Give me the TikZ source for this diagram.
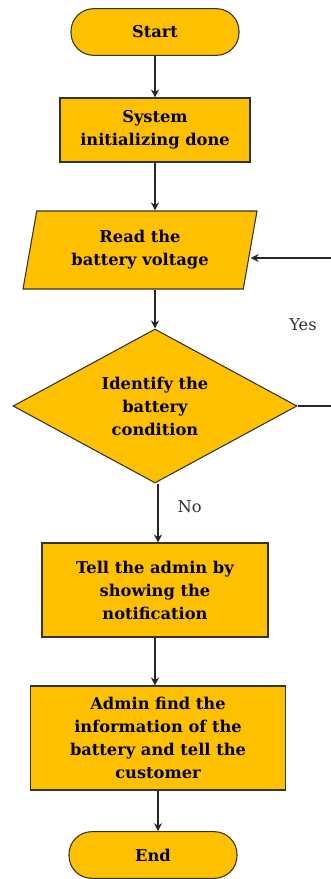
\documentclass[tikz,border=0pt]{standalone}
\usepackage{fontspec}
\setmainfont{DejaVu Serif}
\usetikzlibrary{positioning}
\usetikzlibrary{shapes.geometric,arrows.meta}

\definecolor{boxfill}{HTML}{FFC000}

\begin{document}
\begin{tikzpicture}[x=0.75pt,y=-0.75pt,
  every node/.style={font=\fontsize{12.2}{17.25}\selectfont\bfseries,align=center},
  term/.style={draw=black!80,line width=0.8pt,fill=boxfill,rounded corners=17pt,
    minimum width=126pt,minimum height=35pt},
  proc/.style={draw=black!80,line width=0.8pt,fill=boxfill,inner sep=2pt},
  io/.style={trapezium,trapezium left angle=74,trapezium right angle=106,
    trapezium stretches body,draw=black!80,line width=0.8pt,fill=boxfill,
    minimum width=175.5pt,minimum height=58.5pt},
  decide/.style={diamond,draw=black!80,line width=0.8pt,fill=boxfill,inner sep=-14pt,
    minimum width=213pt,minimum height=115.5pt},
  flow/.style={draw=black!85,line width=0.9pt,-{Stealth[length=6pt,width=6pt]}},
  lbl/.style={font=\fontsize{12.2}{16}\selectfont,text=black!80}]
  \useasboundingbox (0,0) rectangle (331,879);

  \node[term] (start) at (155,32) {Start};
  \node[proc,minimum width=142.5pt,minimum height=48pt] (sys) at (155,130)
    {System\\initializing done};
  \node[io] (read) at (140,250) {Read the\\battery voltage};
  \node[decide] (ident) at (155,406) {Identify the\\battery\\condition};
  \node[proc,minimum width=169.5pt,minimum height=70.5pt] (tell) at (155,590)
    {Tell the admin by\\showing the\\notification};
  \node[proc,minimum width=191pt,minimum height=78pt] (find) at (158,738)
    {Admin find the\\information of the\\battery and tell the\\customer};
  \node[term] (end) at (153,855) {End};
  \node[lbl] (yes) at (303,325) {Yes};
  \coordinate (back) at (338,258);

  \draw[flow] (start) -- (sys);
  \draw[flow] (sys) -- (sys |- read.north);
  \draw[flow] (read.south -| ident.north) -- (ident);
  \draw[flow] ([xshift=2.25pt]ident.south) -- node[lbl,pos=0.4,right=11pt] (no) {No}
    ([xshift=2.25pt]ident.south |- tell.north);
  \draw[flow] (tell) -- (tell |- find.north);
  \draw[flow] (find) -- (find |- end.north);
  \draw[flow] (ident.east) -| (back) -- (back -| read.east);
\end{tikzpicture}
\end{document}
